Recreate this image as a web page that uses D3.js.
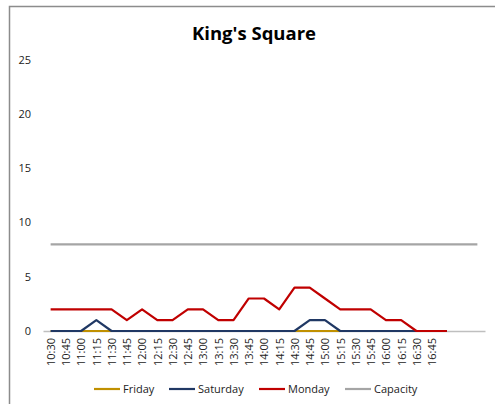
<!DOCTYPE html>
<html>
<head>
<meta charset="utf-8">
<script src="https://cdn.jsdelivr.net/npm/d3@7"></script>
<style>
  body { margin: 0; background: #fff; }
  text { font-family: "Open Sans", sans-serif; }
</style>
</head>
<body>
<div id="vis"></div>
<script>
var categories = ['10:30', '10:45', '11:00', '11:15', '11:30', '11:45', '12:00', '12:15', '12:30', '12:45',
    '13:00', '13:15', '13:30', '13:45', '14:00', '14:15', '14:30', '14:45', '15:00', '15:15',
    '15:30', '15:45', '16:00', '16:15', '16:30', '16:45', '', '', ''];
var friday   = [0, 0, 0, 0, 0, 0, 0, 0, 0, 0, 0, 0, 0, 0, 0, 0, 0, 0, 0, 0, 0, 0, 0, 0, 0, 0, 0];
var saturday = [0, 0, 0, 1, 0, 0, 0, 0, 0, 0, 0, 0, 0, 0, 0, 0, 0, 1, 1, 0, 0, 0, 0, 0, 0, 0, 0];
var monday   = [2, 2, 2, 2, 2, 1, 2, 1, 1, 2, 2, 1, 1, 3, 3, 2, 4, 4, 3, 2, 2, 2, 1, 1, 0, 0, 0];
var capacity = [8, 8, 8, 8, 8, 8, 8, 8, 8, 8, 8, 8, 8, 8, 8, 8, 8, 8, 8, 8, 8, 8, 8, 8, 8, 8, 8, 8, 8];
var yTicks = [0, 5, 10, 15, 20, 25];

var series = [
    {name: 'Friday', values: friday, color: '#c09000'},
    {name: 'Saturday', values: saturday, color: '#203864'},
    {name: 'Monday', values: monday, color: '#c00000'},
    {name: 'Capacity', values: capacity, color: '#a5a5a5'}
];

var W = 495, H = 404;
var svg = d3.select('#vis').append('svg')
    .attr('width', W)
    .attr('height', H);

// chart frame (runs off the bottom/right of the window)
svg.append('rect')
    .attr('x', 9.5).attr('y', 6.5)
    .attr('width', W + 20).attr('height', H + 20)
    .attr('fill', '#fff')
    .attr('stroke', '#8c8c8c')
    .attr('stroke-width', 1.5);

svg.append('text')
    .attr('x', 254).attr('y', 40)
    .attr('text-anchor', 'middle')
    .style('font-size', '18.5px')
    .style('font-weight', 'bold')
    .attr('fill', '#000')
    .text("King's Square");

var x = d3.scalePoint()
    .domain(d3.range(categories.length))
    .range([43, 485])
    .padding(0.5);

var y = d3.scaleLinear()
    .domain([0, 25])
    .range([331, 60]);

// y labels, no axis line
svg.append('g')
    .selectAll('text')
    .data(yTicks)
    .enter()
    .append('text')
        .attr('x', 31)
        .attr('y', d => y(d))
        .attr('dy', '0.35em')
        .attr('text-anchor', 'end')
        .style('font-size', '11px')
        .attr('fill', '#222')
        .text(d => d);

var xAxis = svg.append('g')
    .attr('transform', 'translate(0,331)')
    .call(d3.axisBottom(x).tickSize(0).tickSizeOuter(0).tickFormat(i => categories[i]));
xAxis.select('.domain').attr('stroke', '#bfbfbf').attr('stroke-width', 1.5);
xAxis.selectAll('text')
    .attr('transform', 'rotate(-90)')
    .attr('text-anchor', 'end')
    .attr('x', -7)
    .attr('y', 0)
    .attr('dy', '0.35em')
    .style('font-family', '"Open Sans", sans-serif')
    .style('font-size', '11px')
    .attr('fill', '#222');

var line = d3.line()
    .x((d, i) => x(i))
    .y(d => y(d));

svg.append('g')
    .selectAll('path')
    .data(series)
    .enter()
    .append('path')
        .attr('d', d => line(d.values))
        .attr('fill', 'none')
        .attr('stroke', d => d.color)
        .attr('stroke-width', 2.2)
        .attr('stroke-linejoin', 'round');

// legend
var legendX = [94, 169, 259, 345];
var legend = svg.append('g')
    .selectAll('g')
    .data(series)
    .enter()
    .append('g')
        .attr('transform', (d, i) => 'translate(' + legendX[i] + ',389)');
legend.append('line')
    .attr('x1', 0).attr('x2', 26)
    .attr('stroke', d => d.color)
    .attr('stroke-width', 2.2);
legend.append('text')
    .attr('x', 29)
    .attr('dy', '0.35em')
    .style('font-size', '11px')
    .attr('fill', '#222')
    .text(d => d.name);
</script>
</body>
</html>
